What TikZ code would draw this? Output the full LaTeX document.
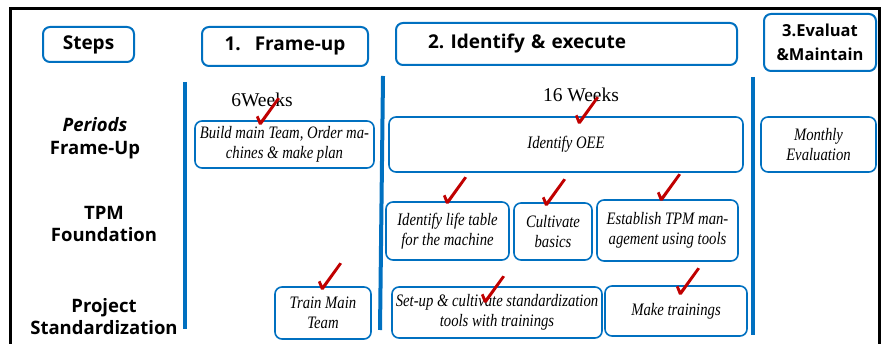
\documentclass[tikz,border=0pt]{standalone}
\usepackage{fontspec}
\setmainfont{Liberation Serif}
\setsansfont{Open Sans}
\newfontfamily\condserif[FakeStretch=0.84]{Liberation Serif}
\definecolor{ofblue}{RGB}{0,112,192}
\definecolor{tickred}{RGB}{192,0,0}

\tikzset{
  head/.style={draw=ofblue, line width=2pt, rounded corners=7pt, inner sep=0pt,
    font=\sffamily\bfseries\fontsize{19}{24}\selectfont, align=center},
  task/.style={draw=ofblue, line width=1.6pt, rounded corners=7pt, inner sep=0pt,
    font=\condserif\itshape\fontsize{17.5}{20}\selectfont, align=center},
  rowlabel/.style={font=\sffamily\bfseries\fontsize{18.5}{22.5}\selectfont, align=center, inner sep=0pt},
  weeks/.style={font=\fontsize{19.5}{22}\selectfont, inner sep=0pt},
  divider/.style={ofblue, line width=4pt},
  tick/.pic={\fill[tickred] (-4,-7) -- (-1.6,-8.4) -- (0.6,-3.4) -- (17.5,-26.5) -- (20,-25.2) -- (1.6,0.6) -- (-1,0.6) -- cycle;}
}

\begin{document}
\begin{tikzpicture}[x=1pt, y=-1pt]
  \useasboundingbox (0,0) rectangle (882,344);
  \clip (0,0) rectangle (882,344);

  % outer frame
  \draw[line width=3pt] (10,9) rectangle (879,352);

  % step headers
  \node[head, minimum width=91, minimum height=35] (steps) at (88.5,44.5) {Steps};
  \node[head, minimum width=166, minimum height=39] (frameup) at (285,46.5) {1.\hspace{14pt}Frame-up};
  \node[head, minimum width=341, minimum height=42, text width=277, inner xsep=32, align=left] (identify) at (566.5,44) {2.\ Identify \& execute};
  \node[head, minimum width=112, minimum height=57, font=\sffamily\bfseries\fontsize{16.5}{24}\selectfont] (evaluate) at (820,42.5) {3.Evaluat\\\&Maintain};

  % row labels
  \node[rowlabel] (rowperiods) at (95,138) {\textit{Periods}\\Frame-Up};
  \node[rowlabel] (rowtpm) at (104,224) {TPM\\Foundation};
  \node[rowlabel] (rowproject) at (104,316.5) {Project\\Standardization};

  % phase dividers
  \draw[divider] (185,82) -- (185,329);
  \draw[divider] (383,76) -- (380,330);
  \draw[divider] (753,77) -- (753,335);

  % durations
  \node[weeks] (w6) at (262,100) {6Weeks};
  \node[weeks] (w16) at (581,94.5) {16 Weeks};

  % tasks
  \node[task, minimum width=179, minimum height=47] (build) at (284.5,144.5) {Build main Team, Order ma-\\chines \& make plan};
  \node[task, minimum width=354, minimum height=55] (oee) at (566,144.5) {Identify OEE};
  \node[task, minimum width=115, minimum height=55] (monthly) at (818.5,144.5) {Monthly\\Evaluation};
  \node[task, minimum width=123, minimum height=58] (life) at (447.5,231) {Identify life table\\for the machine};
  \node[task, minimum width=78, minimum height=57] (basics) at (553,231.5) {Cultivate\\basics};
  \node[task, minimum width=141, minimum height=61] (establish) at (667.5,230.5) {Establish TPM man-\\agement using tools};
  \node[task, minimum width=96, minimum height=52] (train) at (323,313) {Train Main\\Team};
  \node[task, minimum width=210, minimum height=51] (setup) at (497,312.5) {Set-up \& cultivate standardization\\tools with trainings};
  \node[task, minimum width=142, minimum height=50] (make) at (676,311) {Make trainings};

  % check marks
  \pic at (260,124) {tick};
  \pic at (579,123) {tick};
  \pic at (447,203) {tick};
  \pic at (546,205) {tick};
  \pic at (661,200) {tick};
  \pic at (322,289) {tick};
  \pic at (485,302) {tick};
  \pic at (680,294) {tick};
\end{tikzpicture}
\end{document}
